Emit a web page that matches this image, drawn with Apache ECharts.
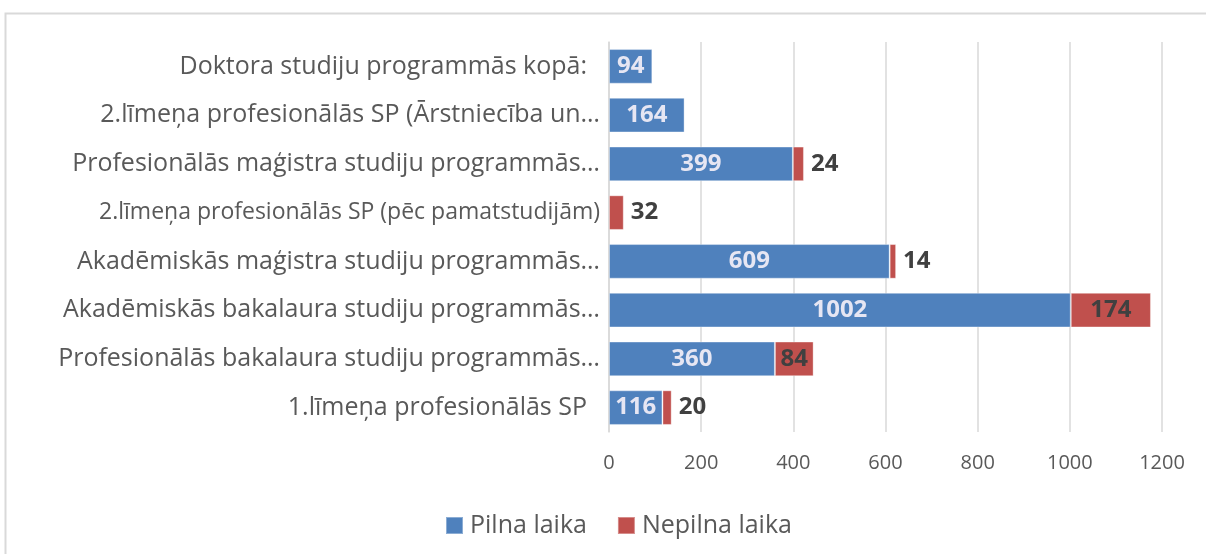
<!DOCTYPE html>
<html>
<head>
<meta charset="utf-8">
<script src="https://cdn.jsdelivr.net/npm/echarts@6/dist/echarts.min.js"></script>
<style>
html,body{margin:0;padding:0;background:#fff;}
#c{width:1206px;height:554px;}
</style>
</head>
<body>
<div id="c"></div>
<script>
// Categories listed bottom-to-top (as the category axis draws them)
const categories = [
  "1.līmeņa profesionālās SP  ",
  "Profesionālās bakalaura studiju programmās…",
  "Akadēmiskās bakalaura studiju programmās…",
  "Akadēmiskās maģistra studiju programmās…",
  "2.līmeņa profesionālās SP (pēc pamatstudijām)",
  "Profesionālās maģistra studiju programmās…",
  "2.līmeņa profesionālās SP (Ārstniecība un…",
  "Doktora studiju programmās kopā:  "
];
const pilnaLaika = [116, 360, 1002, 609, null, 399, 164, 94];
const nepilnaLaika = [20, 84, 174, 14, 32, 24, null, null];
const xTicks = [0, 200, 400, 600, 800, 1000, 1200];
const seriesNames = ["Pilna laika", "Nepilna laika"];

const FONT = "Open Sans";
const chart = echarts.init(document.getElementById('c'), null, {renderer: 'canvas'});

const nepilnaData = nepilnaLaika.map(v => {
  if (v == null) return null;
  const inside = v >= 60;
  return {
    value: v,
    label: { position: inside ? 'inside' : 'right', distance: 7 }
  };
});

const longest = categories.reduce((a, b) => (b.length > a.length ? b : a));

chart.setOption({
  animation: false,
  backgroundColor: '#ffffff',
  graphic: [{
    type: 'rect',
    shape: { x: 5.5, y: 13.5, width: 1240, height: 600 },
    style: { fill: 'none', stroke: '#d9d9d9', lineWidth: 2 },
    silent: true
  }],
  grid: { left: 609, right: 44, top: 42, bottom: 122, containLabel: false },
  legend: {
    top: 508,
    left: 440,
    itemWidth: 17,
    itemHeight: 17,
    itemGap: 30,
    icon: 'rect',
    textStyle: { fontFamily: FONT, fontSize: 25, color: '#595959', padding: [0, 0, 0, 2] },
    data: seriesNames
  },
  xAxis: {
    type: 'value',
    min: xTicks[0],
    max: xTicks[xTicks.length - 1],
    interval: xTicks[1] - xTicks[0],
    axisLine: { show: false },
    axisTick: { show: false },
    splitLine: { show: true, lineStyle: { color: '#d9d9d9', width: 1.5 } },
    axisLabel: {
      fontFamily: FONT, fontSize: 20, color: '#595959', margin: 21,
      formatter: v => String(v)
    }
  },
  yAxis: {
    type: 'category',
    data: categories,
    axisLine: { show: true, lineStyle: { color: '#d9d9d9', width: 1.5 } },
    axisTick: { show: false },
    axisLabel: {
      fontFamily: FONT, fontSize: 25, color: '#595959', margin: 9,
      formatter: v => (v === longest ? '{s|' + v + '}' : v),
      rich: { s: { fontFamily: FONT, fontSize: 23, color: '#595959' } }
    }
  },
  series: [
    {
      name: seriesNames[0],
      type: 'bar',
      stack: 'total',
      barCategoryGap: '29%',
      itemStyle: { color: '#4f81bd', borderColor: 'rgba(255,255,255,0.35)', borderWidth: 1 },
      label: {
        show: true, position: 'inside',
        fontFamily: FONT, fontSize: 24, fontWeight: 'bold', color: '#e6e6f3'
      },
      data: pilnaLaika
    },
    {
      name: seriesNames[1],
      type: 'bar',
      stack: 'total',
      barCategoryGap: '29%',
      itemStyle: { color: '#c0504d', borderColor: 'rgba(255,255,255,0.35)', borderWidth: 1 },
      label: {
        show: true,
        fontFamily: FONT, fontSize: 24, fontWeight: 'bold', color: '#404040'
      },
      data: nepilnaData
    }
  ]
});
</script>
</body>
</html>
